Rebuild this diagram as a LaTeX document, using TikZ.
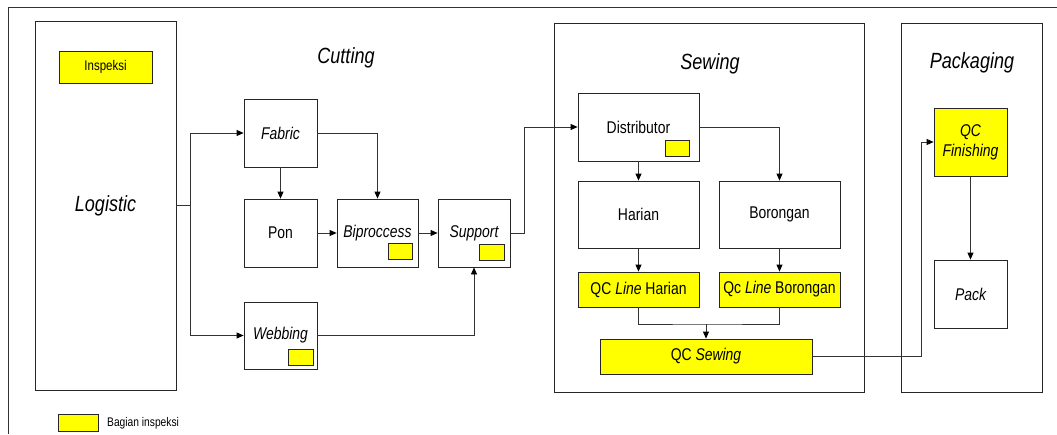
\documentclass[tikz,border=0pt]{standalone}
\usepackage{fontspec}
\setmainfont{Liberation Sans}[FakeStretch=0.82]
\usetikzlibrary{arrows.meta}
\definecolor{qcyellow}{RGB}{255,255,0}
\begin{document}
\begin{tikzpicture}[x=1pt,y=-1pt,
  box/.style={draw=black!85, line width=0.8pt, fill=white, inner sep=0pt, align=center,
    font=\fontsize{17}{19}\selectfont},
  ybox/.style={box, fill=qcyellow},
  tag/.style={draw=black!85, line width=0.7pt, fill=qcyellow, inner sep=0pt, minimum width=24pt, minimum height=16pt},
  group/.style={draw=black!85, line width=0.8pt, inner sep=0pt},
  title/.style={font=\fontsize{22}{24}\selectfont\itshape, inner sep=0pt},
  conn/.style={draw=black!80, line width=0.8pt},
  arr/.style={conn, -{Triangle[length=7pt,width=6pt,color=black]}}
]
\useasboundingbox (0,0) rectangle (1057,434);
% outer frame
\draw[black!80, line width=0.8pt] (1057,7) -- (8,7) -- (8,434);

% group boxes
\node[group, minimum width=141pt, minimum height=369pt, font=\fontsize{22}{24}\selectfont\itshape] (logistic) at (105.5,205.5) {Logistic};
\node[group, minimum width=310pt, minimum height=369pt] (sewbox) at (709,207.5) {};
\node[group, minimum width=141pt, minimum height=369pt] (packbox) at (971.5,207.5) {};

\node[ybox, minimum width=93pt, minimum height=32pt, font=\fontsize{14}{16}\selectfont] (insp) at (105.5,67) {Inspeksi};

% titles
\node[title] (tcut) at (346,58) {Cutting};
\node[title] (tsew) at (710,64) {Sewing};
\node[title] (tpack) at (972,63) {Packaging};

% cutting
\node[box, minimum width=73pt, minimum height=68pt] (fabric) at (280.5,133) {\itshape Fabric};
\node[box, minimum width=73pt, minimum height=68pt] (pon) at (280.5,233) {Pon};
\node[box, minimum width=81pt, minimum height=68pt] (bip) at (377.5,233) {\itshape Biproccess};
\node[box, minimum width=72pt, minimum height=68pt] (support) at (474,233) {\itshape Support};
\node[box, minimum width=73pt, minimum height=67pt] (webbing) at (280.5,335.5) {\itshape Webbing};
\node[tag] (tbip) at (400,251) {};
\node[tag, minimum width=25pt] (tsup) at (491.5,252) {};
\node[tag, minimum width=25pt] (tweb) at (300.5,357) {};

% sewing
\node[box, minimum width=121pt, minimum height=68pt] (dist) at (638.5,127) {Distributor};
\node[tag] (tdist) at (677,148.5) {};
\node[box, minimum width=121pt, minimum height=67pt] (harian) at (638.5,214.5) {Harian};
\node[box, minimum width=121pt, minimum height=67pt] (borongan) at (779.5,214.5) {Borongan};
\node[ybox, minimum width=121pt, minimum height=35pt] (qcl1) at (638.5,289.5) {QC \textit{Line} Harian};
\node[ybox, minimum width=121pt, minimum height=35pt] (qcl2) at (779.5,289.5) {Qc \textit{Line} Borongan};
\node[ybox, minimum width=212pt, minimum height=35pt] (qcs) at (706,356.5) {QC \textit{Sewing}};

% packaging
\node[ybox, minimum width=73pt, minimum height=68pt, font=\fontsize{17}{20}\selectfont\itshape] (qcf) at (970.5,142) {QC\\Finishing};
\node[box, minimum width=73pt, minimum height=68pt] (pack) at (970.5,294) {\itshape Pack};

% legend
\node[tag, minimum width=40pt, minimum height=17pt] (leg) at (78,422.5) {};
\node[anchor=west, inner sep=0pt, font=\fontsize{12.5}{14}\selectfont] (legt) at (107,423.5) {Bagian inspeksi};

% connectors
\coordinate (j1) at (190,205.5);
\draw[conn] (logistic.east) -- (j1);
\draw[arr] (j1) |- (fabric.west);
\draw[arr] (j1) |- (webbing.west);
\draw[arr] (fabric) -- (pon);
\draw[arr] (fabric.east) -| (bip.north);
\draw[arr] (pon) -- (bip);
\draw[arr] (bip) -- (support);
\draw[arr] (support.east) -- ++(14,0) |- (dist.west);
\draw[arr] (webbing.east) -| (support.south);

\draw[arr] (dist) -- (harian);
\draw[arr] (dist.east) -| (borongan.north);
\draw[arr] (harian) -- (qcl1);
\draw[arr] (borongan) -- (qcl2);
\coordinate (m) at (706,324);
\draw[conn] (qcl1.south) |- (m) -| (qcl2.south);
\draw[arr] (m) -- (qcs.north);
\draw[arr] (qcs.east) -- ++(109,0) |- (qcf.west);
\draw[arr] (qcf) -- (pack);
\end{tikzpicture}
\end{document}
